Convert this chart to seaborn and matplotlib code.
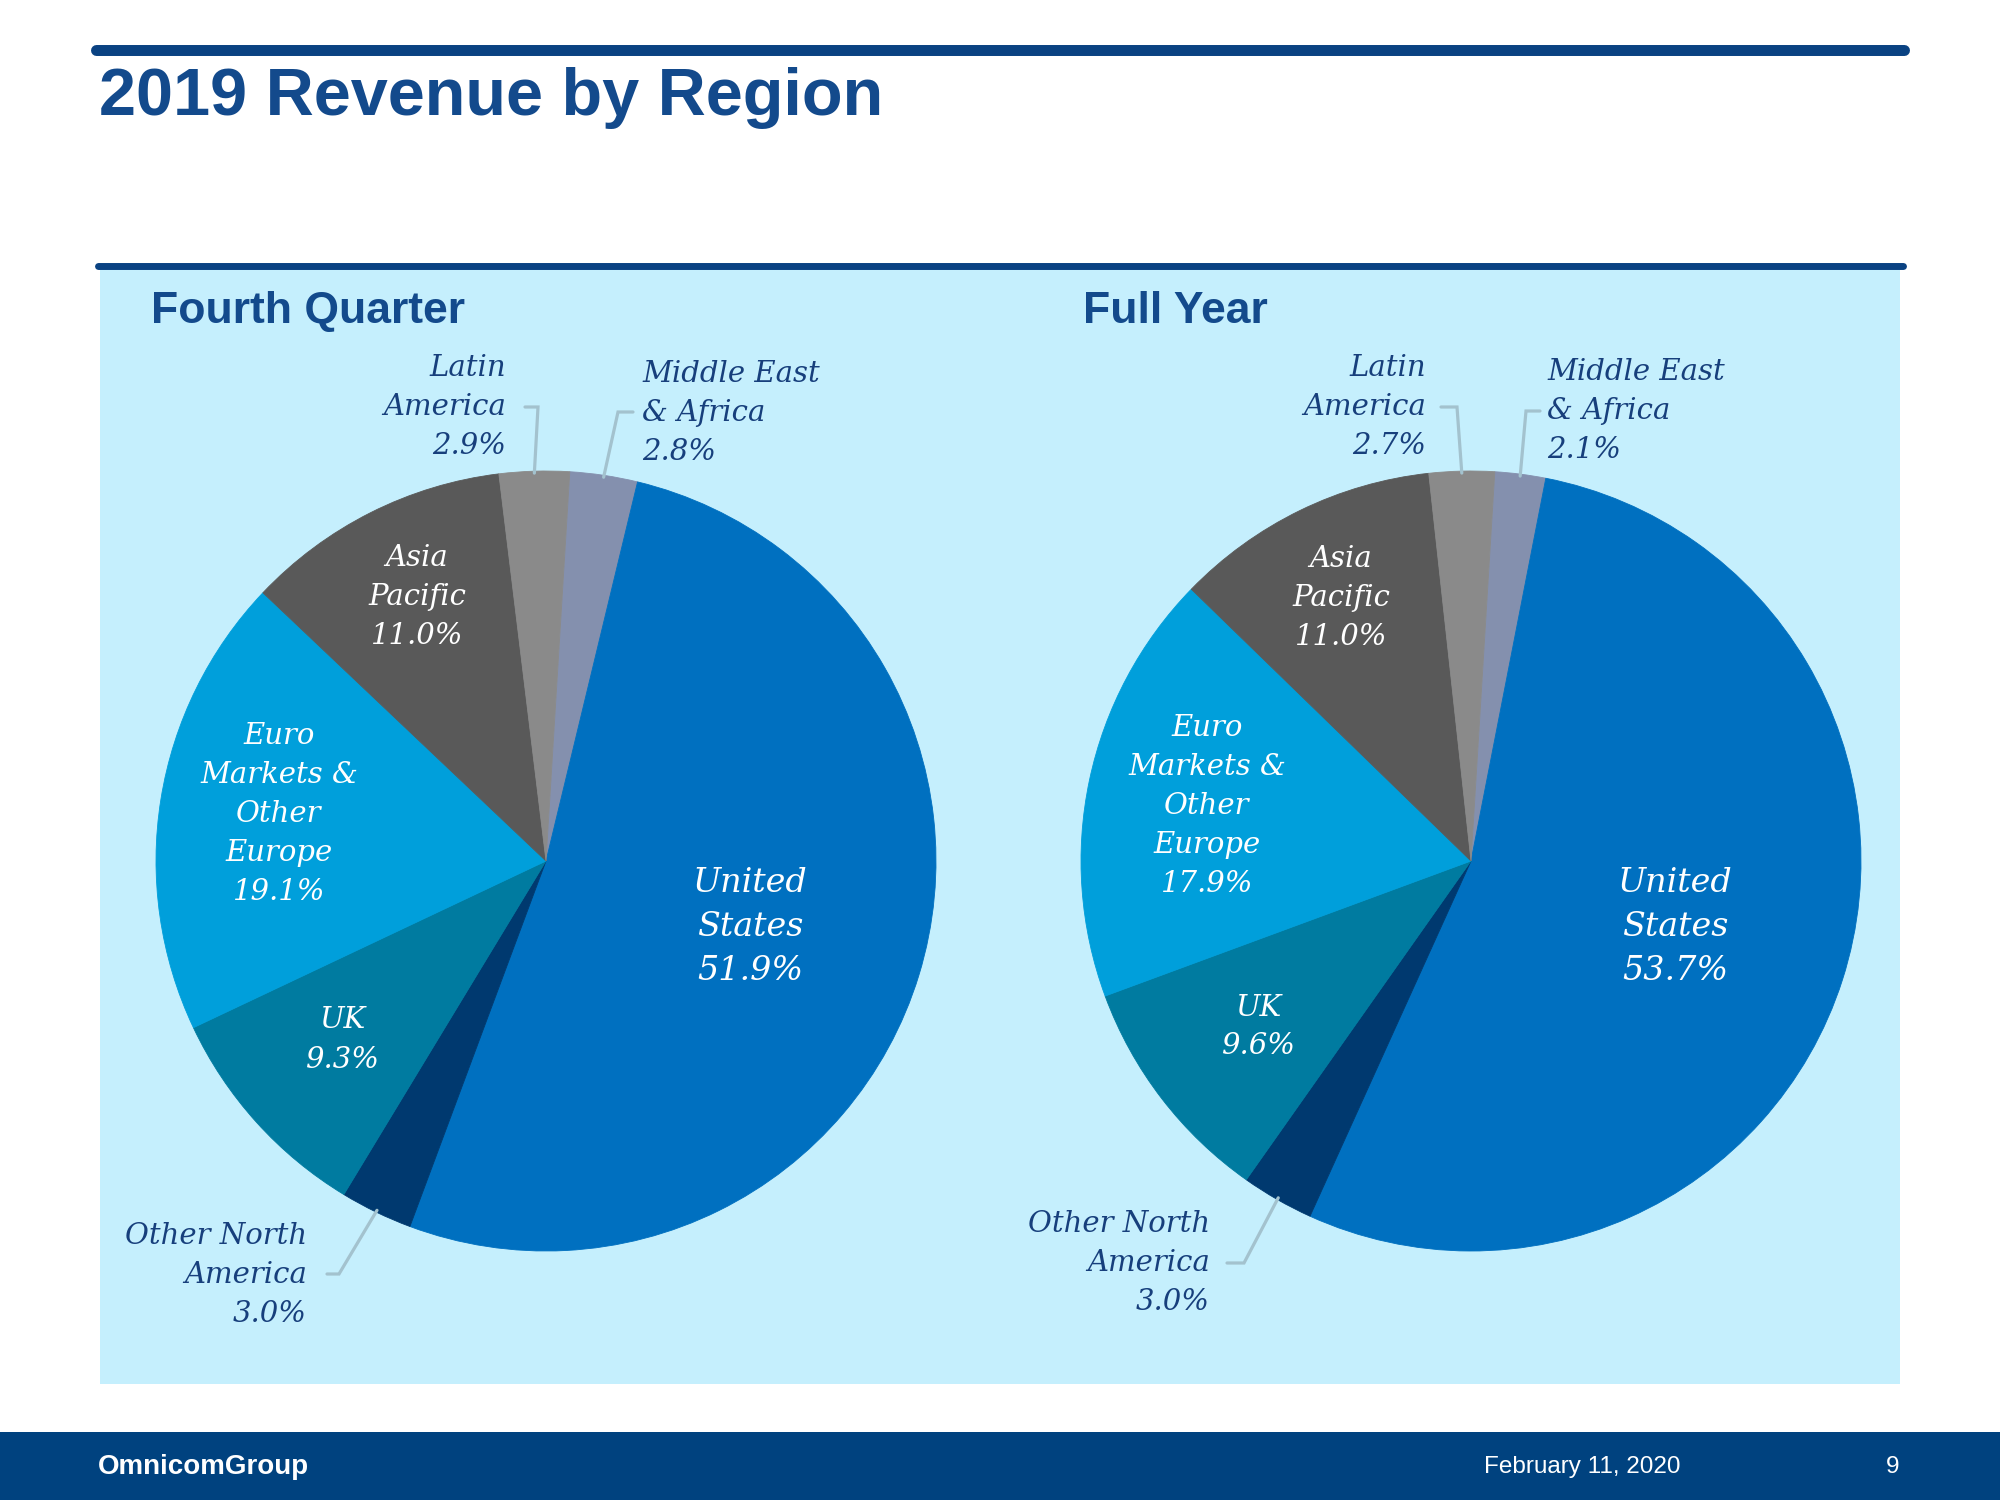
import numpy as np
import matplotlib
matplotlib.use("Agg")
import matplotlib.pyplot as plt
from matplotlib.patches import Rectangle
import seaborn as sns

# ---- data ----
regions = ["Middle East\n& Africa", "United\nStates", "Other North\nAmerica", "UK",
           "Euro\nMarkets &\nOther\nEurope", "Asia\nPacific", "Latin\nAmerica"]
q4_share = [2.8, 51.9, 3.0, 9.3, 19.1, 11.0, 2.9]
fy_share = [2.1, 53.7, 3.0, 9.6, 17.9, 11.0, 2.7]
panel_titles = ["Fourth Quarter", "Full Year"]
slice_colors = ["#8490AE", "#0070C0", "#00396F", "#007BA0", "#009FDB", "#595959", "#8A8A8A"]

sns.set_theme(style="white")
plt.rcParams['font.family'] = ['Liberation Sans', 'DejaVu Sans']

W, H = 2000, 1500
NAVY = "#0A4282"
TXT = "#173F7C"
LEAD = "#A3C2CE"


def pixel_axes(fig):
    a = fig.add_axes([0, 0, 1, 1])
    a.set_xlim(0, W)
    a.set_ylim(H, 0)
    a.axis('off')
    a.patch.set_visible(False)
    return a


fig = plt.figure(figsize=(20, 15), dpi=100)
bg = pixel_axes(fig)

# header
bg.plot([96, 1904], [49.5, 49.5], color=NAVY, lw=7.9, solid_capstyle='round')
bg.text(99, 115, "2019 Revenue by Region", fontsize=48, fontweight='bold',
        color="#134A8C", va='baseline', ha='left')

# panel
bg.add_patch(Rectangle((100, 269), 1800, 1115, facecolor="#C5EFFD", edgecolor='none'))
bg.plot([98, 1903], [266, 266], color=NAVY, lw=5, solid_capstyle='round')

# footer
bg.add_patch(Rectangle((0, 1432), W, 68, facecolor="#00427F", edgecolor='none'))
bg.text(98, 1467, "OmnicomGroup", fontsize=20, fontweight='bold', color='white',
        va='center', ha='left')
bg.text(1681, 1467, "February 11, 2020", fontsize=17.5, color='white', va='center', ha='right')
bg.text(1893, 1467, "9", fontsize=17.5, color='white', va='center', ha='center')

# per-pie layout: center, title x, label placement, leader elbows
R = 390
layouts = [
    dict(cx=546, cy=861, tx=151, labels=[
        (642, 413, 'left', TXT, 21),
        (750, 927, 'center', 'white', 24),
        (307, 1275, 'right', TXT, 21),
        (342, 1040, 'center', 'white', 21),
        (279, 814, 'center', 'white', 21),
        (417, 597, 'center', 'white', 21),
        (506, 407, 'right', TXT, 21),
    ], leaders={0: [(633, 412), (618, 412)],
                2: [(327, 1274), (339, 1274)],
                6: [(525, 407), (538, 407)]}),
    dict(cx=1471, cy=861, tx=1083, labels=[
        (1547, 411, 'left', TXT, 21),
        (1675, 927, 'center', 'white', 24),
        (1210, 1263, 'right', TXT, 21),
        (1258, 1027, 'center', 'white', 21),
        (1207, 806, 'center', 'white', 21),
        (1341, 598, 'center', 'white', 21),
        (1426, 407, 'right', TXT, 21),
    ], leaders={0: [(1540, 411), (1526, 411)],
                2: [(1227, 1263), (1244, 1263)],
                6: [(1441, 407), (1457, 407)]}),
]

pies = []
for share, title, lay in zip([q4_share, fy_share], panel_titles, layouts):
    cx, cy = lay['cx'], lay['cy']
    ax = fig.add_axes([(cx - R) / W, (H - cy - R) / H, 2 * R / W, 2 * R / H])
    wedges, _ = ax.pie(share, colors=slice_colors, startangle=86.5, counterclock=False,
                       radius=1, wedgeprops=dict(linewidth=0.6))
    for w in wedges:
        w.set_edgecolor(w.get_facecolor())
    ax.set_xlim(-1, 1)
    ax.set_ylim(-1, 1)
    ax.patch.set_visible(False)
    pies.append(wedges)

    bg.text(lay['tx'], 323, title, fontsize=32, fontweight='bold', color="#134A8C",
            va='baseline', ha='left')

# labels and leader lines on top of the pies
fg = pixel_axes(fig)
for share, lay, wedges in zip([q4_share, fy_share], layouts, pies):
    cx, cy = lay['cx'], lay['cy']
    for i, (name, val) in enumerate(zip(regions, share)):
        x, y, ha, col, fs = lay['labels'][i]
        fg.text(x, y, f"{name}\n{val:.1f}%", fontsize=fs, color=col, ha=ha, va='center',
                family='DejaVu Serif', style='italic', linespacing=1.5,
                multialignment=ha)
        if i in lay['leaders']:
            mid = np.deg2rad((wedges[i].theta1 + wedges[i].theta2) / 2)
            end = (cx + R * 0.995 * np.cos(mid), cy - R * 0.995 * np.sin(mid))
            pts = lay['leaders'][i] + [end]
            fg.plot([p[0] for p in pts], [p[1] for p in pts], color=LEAD, lw=2.3,
                    solid_joinstyle='miter')

fig.savefig("out.png", dpi=100)
